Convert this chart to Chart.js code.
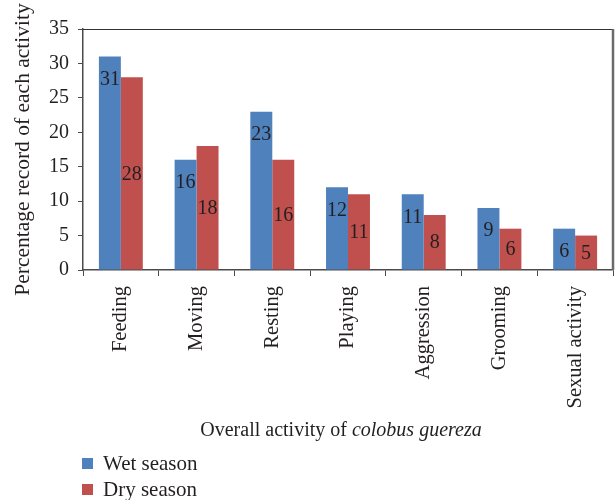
<!DOCTYPE html>
<html><head><meta charset="utf-8">
<script src="https://cdn.jsdelivr.net/npm/chart.js@4"></script>
<style>html,body{margin:0;padding:0;background:#fff}canvas{display:block}</style>
</head><body>
<canvas id="c" width="616" height="500"></canvas>
<script>
const activities = ['Feeding', 'Moving', 'Resting', 'Playing', 'Aggression', 'Grooming', 'Sexual activity'];
const wetSeason = [31, 16, 23, 12, 11, 9, 6];
const drySeason = [28, 18, 16, 11, 8, 6, 5];
const seriesNames = ['Wet season', 'Dry season'];
const seriesColors = ['#4F81BD', '#C0504D'];
const yMax = 35;
const yStep = 5;

const SERIF = '"Liberation Serif", "DejaVu Serif", serif';
const TEXT = '#231f20';
const AXIS = '#4a4a4a';

// Value labels: wet-season values sit just under the bar top, dry-season ones in the bar middle
const valueLabels = {
  id: 'valueLabels',
  afterDatasetsDraw(chart) {
    const ctx = chart.ctx;
    ctx.save();
    ctx.font = '20px ' + SERIF;
    ctx.fillStyle = TEXT;
    ctx.textAlign = 'center';
    ctx.textBaseline = 'middle';
    chart.data.datasets.forEach((ds, i) => {
      const meta = chart.getDatasetMeta(i);
      meta.data.forEach((bar, j) => {
        const y = ds.labelPlacement === 'top' ? bar.y + 22 : (bar.y + bar.base) / 2;
        ctx.fillText(String(ds.data[j]), bar.x, y + 1);
      });
    });
    ctx.restore();
  }
};

// Plot frame (top and right edges), axis titles and the stacked legend
const decorations = {
  id: 'decorations',
  afterDraw(chart) {
    const ctx = chart.ctx;
    const a = chart.chartArea;
    ctx.save();
    ctx.strokeStyle = '#333';
    ctx.lineWidth = 1;
    ctx.beginPath();
    ctx.moveTo(a.left, a.top + 0.5);
    ctx.lineTo(a.right, a.top + 0.5);
    ctx.stroke();
    ctx.strokeStyle = '#6b6b6b';
    ctx.lineWidth = 2.5;
    ctx.beginPath();
    ctx.moveTo(a.right, a.top);
    ctx.lineTo(a.right, a.bottom);
    ctx.stroke();

    // y-axis title
    ctx.fillStyle = TEXT;
    ctx.font = '21.5px ' + SERIF;
    ctx.textAlign = 'center';
    ctx.textBaseline = 'middle';
    ctx.save();
    ctx.translate(23, (a.top + a.bottom) / 2);
    ctx.rotate(-Math.PI / 2);
    ctx.fillText('Percentage record of each activity', 0, 0);
    ctx.restore();

    // x-axis title with italic species name
    const plain = 'Overall activity of ';
    const ital = 'colobus guereza';
    ctx.font = '20px ' + SERIF;
    const w1 = ctx.measureText(plain).width;
    ctx.font = 'italic 20px ' + SERIF;
    const w2 = ctx.measureText(ital).width;
    const x = (a.left + a.right) / 2 - 7 - (w1 + w2) / 2;
    const ty = 431;
    ctx.textAlign = 'left';
    ctx.font = '20px ' + SERIF;
    ctx.fillText(plain, x, ty);
    ctx.font = 'italic 20px ' + SERIF;
    ctx.fillText(ital, x + w1, ty);

    // legend
    ctx.font = '21px ' + SERIF;
    seriesNames.forEach((name, i) => {
      const cy = 463 + i * 26;
      ctx.fillStyle = seriesColors[i];
      ctx.fillRect(82, cy - 5, 11, 11);
      ctx.fillStyle = TEXT;
      ctx.fillText(name, 103, cy + 1);
    });
    ctx.restore();
  }
};

new Chart(document.getElementById('c'), {
  type: 'bar',
  data: {
    labels: activities,
    datasets: [
      { label: seriesNames[0], data: wetSeason, backgroundColor: seriesColors[0], labelPlacement: 'top' },
      { label: seriesNames[1], data: drySeason, backgroundColor: seriesColors[1], labelPlacement: 'middle' }
    ]
  },
  options: {
    responsive: false,
    animation: false,
    events: [],
    layout: { padding: { top: 29, right: 3, left: 0, bottom: 0 } },
    datasets: { bar: { barPercentage: 1.0, categoryPercentage: 0.58 } },
    plugins: { legend: { display: false }, tooltip: { enabled: false } },
    scales: {
      x: {
        afterFit(scale) { scale.height = 230; },
        grid: { offset: true, drawOnChartArea: false, drawTicks: true, tickLength: 6, color: AXIS },
        border: { display: true, color: AXIS, width: 1.5 },
        ticks: {
          maxRotation: 90, minRotation: 90, padding: 10, autoSkip: false,
          color: TEXT, font: { family: SERIF, size: 20.5 }
        }
      },
      y: {
        min: 0, max: yMax,
        afterFit(scale) { scale.width = 83; },
        grid: { drawOnChartArea: false, drawTicks: true, tickLength: 5, color: AXIS },
        border: { display: true, color: AXIS, width: 1.5 },
        ticks: { stepSize: yStep, padding: 9, color: TEXT, font: { family: SERIF, size: 20 } }
      }
    }
  },
  plugins: [valueLabels, decorations]
});
</script>
</body></html>
